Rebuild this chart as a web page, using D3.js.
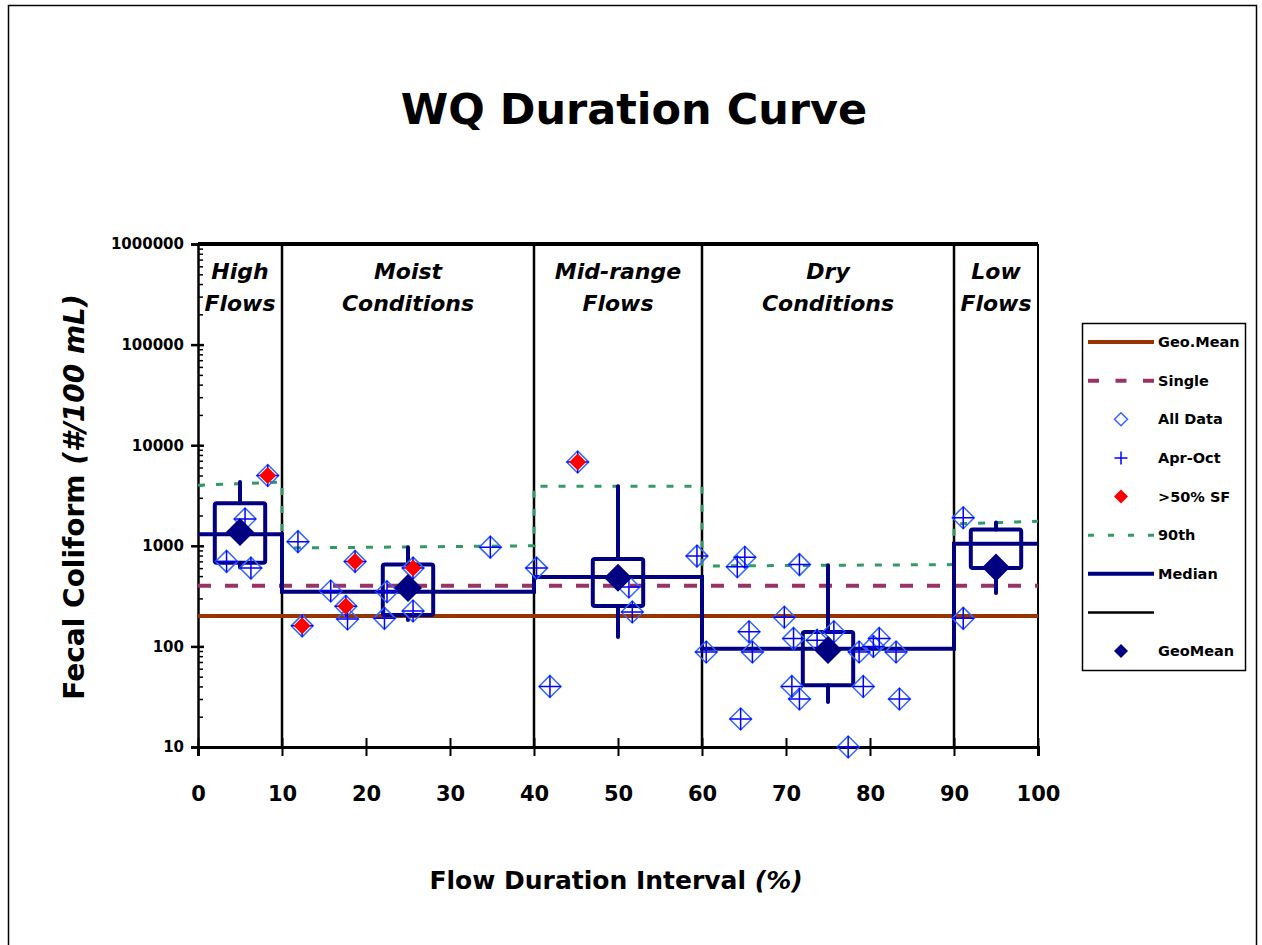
<!DOCTYPE html>
<html>
<head>
<meta charset="utf-8">
<script src="https://cdn.jsdelivr.net/npm/d3@7"></script>
<style>
  body { margin: 0; background: #fff; }
  svg text { font-family: "DejaVu Sans", sans-serif; font-weight: bold; fill: #000; }
</style>
</head>
<body>
<script>
// zones of the flow duration curve
var zoneBounds = [0, 10, 40, 60, 90, 100];
var zoneMid = [5, 25, 50, 75, 95];
var zoneLabels = [["High", "Flows"], ["Moist", "Conditions"], ["Mid-range", "Flows"], ["Dry", "Conditions"], ["Low", "Flows"]];

// criteria
var geoMeanStd = 200;
var singleStd = 400;

// 90th percentile line, start/end value in each zone
var ninetyStart = [4000, 950, 3900, 630, 1650];
var ninetyEnd = [4300, 1000, 3900, 650, 1750];

// zone statistics
var medianVals = [1300, 350, 490, 95, 1050];
var q1Vals = [680, 205, 252, 41, 600];
var q3Vals = [2650, 650, 740, 139, 1450];
var loVals = [610, 183, 124, 28, 340];
var hiVals = [4300, 970, 3900, 640, 1700];
var geoMeanVals = [1370, 380, 480, 92, 610];

// samples (all data, all inside Apr-Oct)
var allX = [5.6, 3.4, 6.3, 8.3,
            11.9, 12.4, 15.8, 18.7, 17.6, 17.8, 22.2, 22.5, 25.6, 25.6, 34.8,
            40.3, 41.9, 45.2, 51.3, 51.7, 59.4,
            60.5, 64.2, 65.1, 64.6, 65.6, 66.0, 69.8, 70.9, 70.7, 71.6, 71.6, 73.7, 75.7, 77.4, 78.7, 79.2, 80.4, 81.1, 83.1, 83.5,
            91.1, 91.1];
var allY = [1850, 700, 600, 5000,
            1100, 160, 355, 700, 250, 187, 190, 350, 600, 225, 970,
            600, 40, 6800, 390, 220, 790,
            88, 620, 770, 19, 140, 88, 195, 120, 40, 30, 650, 115, 140, 10, 88, 40, 100, 120, 88, 30,
            1900, 190];
// samples above 50% of single sample criterion
var sfX = [8.3, 12.4, 18.7, 17.6, 25.6, 45.2];
var sfY = [5000, 160, 700, 250, 600, 6800];

var yTicks = [10, 100, 1000, 10000, 100000, 1000000];
var xTicks = [0, 10, 20, 30, 40, 50, 60, 70, 80, 90, 100];

var legendNames = ["Geo.Mean", "Single", "All Data", "Apr-Oct", ">50% SF", "90th", "Median", "", "GeoMean"];

var width = 1262, height = 945;
var plotLeft = 198, plotRight = 1038, plotTop = 244, plotBottom = 747;

var navy = "#000080", brown = "#993300", purple = "#993366", green = "#339966", blue = "#3366ff";

var x = d3.scaleLinear().domain([0, 100]).range([plotLeft, plotRight]);
var y = d3.scaleLog().domain([10, 1000000]).range([plotBottom, plotTop]);

function diamond(r) { return "M0," + (-r) + "L" + r + ",0L0," + r + "L" + (-r) + ",0Z"; }
function cross(r) { return "M" + (-r) + ",0H" + r + "M0," + (-r) + "V" + r; }

var svg = d3.select("body").append("svg")
    .attr("width", width)
    .attr("height", height);

// outer slide frame
svg.append("rect")
    .attr("x", 8.5).attr("y", 5.5)
    .attr("width", 1248).attr("height", 960)
    .attr("fill", "none").attr("stroke", "#000").attr("stroke-width", 1.5);

svg.append("text")
    .attr("x", 634).attr("y", 124)
    .attr("text-anchor", "middle")
    .style("font-size", "43px")
    .text("WQ Duration Curve");

// y axis, major ticks crossing the line and minor ticks inside
var minorTicks = [];
for (var e = 1; e < 6; e++) for (var m = 2; m < 10; m++) minorTicks.push(m * Math.pow(10, e));

svg.append("g")
    .attr("transform", "translate(" + plotLeft + ",0)")
    .call(d3.axisLeft(y).tickValues(yTicks).tickFormat(d3.format("d")).tickSize(7).tickPadding(7))
    .call(function(g) {
        g.select(".domain").attr("stroke-width", 2.5);
        g.selectAll(".tick line").attr("stroke-width", 2.5);
        g.selectAll(".tick text").style("font-size", "15px").attr("font-family", null);
    });
svg.append("g")
    .attr("transform", "translate(" + plotLeft + ",0)")
    .call(d3.axisRight(y).tickValues(yTicks).tickFormat("").tickSize(6))
    .call(function(g) { g.select(".domain").remove(); g.selectAll(".tick line").attr("stroke-width", 2.5); });
svg.append("g")
    .attr("transform", "translate(" + plotLeft + ",0)")
    .call(d3.axisRight(y).tickValues(minorTicks).tickFormat("").tickSize(5))
    .call(function(g) { g.select(".domain").remove(); g.selectAll(".tick line").attr("stroke-width", 1.5); });

// x axis
svg.append("g")
    .attr("transform", "translate(0," + plotBottom + ")")
    .call(d3.axisBottom(x).tickValues(xTicks).tickSize(9).tickPadding(30))
    .call(function(g) {
        g.select(".domain").attr("stroke-width", 3);
        g.selectAll(".tick line").attr("stroke-width", 2).attr("y1", -9);
        g.selectAll(".tick text").style("font-size", "21px").attr("font-family", null);
    });

// plot frame top and right
svg.append("line")
    .attr("x1", plotLeft).attr("x2", plotRight).attr("y1", plotTop).attr("y2", plotTop)
    .attr("stroke", "#000").attr("stroke-width", 4);
svg.append("line")
    .attr("x1", plotRight).attr("x2", plotRight).attr("y1", plotTop).attr("y2", plotBottom)
    .attr("stroke", "#000").attr("stroke-width", 2);

// zone dividers
svg.append("g").selectAll("line")
    .data(zoneBounds.slice(1, 5))
    .enter().append("line")
    .attr("x1", function(d) { return x(d); })
    .attr("x2", function(d) { return x(d); })
    .attr("y1", plotTop).attr("y2", plotBottom)
    .attr("stroke", "#000").attr("stroke-width", 2.5);

// zone labels
var zl = svg.append("g").selectAll("text")
    .data(zoneLabels)
    .enter().append("text")
    .attr("text-anchor", "middle")
    .style("font-size", "22px")
    .style("font-style", "italic");
zl.append("tspan")
    .attr("x", function(d, i) { return x(zoneMid[i]); })
    .attr("y", 279)
    .text(function(d) { return d[0]; });
zl.append("tspan")
    .attr("x", function(d, i) { return x(zoneMid[i]); })
    .attr("y", 311)
    .text(function(d) { return d[1]; });

// geometric mean criterion
svg.append("line")
    .attr("x1", x(0)).attr("x2", x(100))
    .attr("y1", y(geoMeanStd)).attr("y2", y(geoMeanStd))
    .attr("stroke", brown).attr("stroke-width", 4);

// single sample criterion
svg.append("line")
    .attr("x1", x(0)).attr("x2", x(100))
    .attr("y1", y(singleStd)).attr("y2", y(singleStd))
    .attr("stroke", purple).attr("stroke-width", 4)
    .attr("stroke-dasharray", "13,14");

// 90th percentile
var ninetyPts = [];
zoneMid.forEach(function(d, i) {
    ninetyPts.push([zoneBounds[i], ninetyStart[i]]);
    ninetyPts.push([zoneBounds[i + 1], ninetyEnd[i]]);
});
svg.append("path")
    .datum(ninetyPts)
    .attr("d", d3.line().x(function(d) { return x(d[0]); }).y(function(d) { return y(d[1]); }))
    .attr("fill", "none")
    .attr("stroke", green).attr("stroke-width", 3)
    .attr("stroke-dasharray", "7,11");

// median step line
var medianPts = zoneMid.map(function(d, i) { return [zoneBounds[i], medianVals[i]]; });
medianPts.push([100, medianVals[medianVals.length - 1]]);
svg.append("path")
    .datum(medianPts)
    .attr("d", d3.line().curve(d3.curveStepAfter).x(function(d) { return x(d[0]); }).y(function(d) { return y(d[1]); }))
    .attr("fill", "none")
    .attr("stroke", navy).attr("stroke-width", 4);

// box plots
var boxes = svg.append("g")
    .attr("stroke", navy).attr("stroke-width", 4)
    .attr("stroke-linecap", "round").attr("stroke-linejoin", "round");
boxes.selectAll("rect")
    .data(zoneMid)
    .enter().append("rect")
    .attr("x", function(d) { return x(d - 3); })
    .attr("width", function(d) { return x(d + 3) - x(d - 3); })
    .attr("y", function(d, i) { return y(q3Vals[i]); })
    .attr("height", function(d, i) { return y(q1Vals[i]) - y(q3Vals[i]); })
    .attr("rx", 2)
    .attr("fill", "none");
boxes.selectAll("line.hi")
    .data(zoneMid)
    .enter().append("line")
    .attr("class", "hi")
    .attr("x1", function(d) { return x(d); })
    .attr("x2", function(d) { return x(d); })
    .attr("y1", function(d, i) { return y(q3Vals[i]); })
    .attr("y2", function(d, i) { return y(hiVals[i]); });
boxes.selectAll("line.lo")
    .data(zoneMid)
    .enter().append("line")
    .attr("class", "lo")
    .attr("x1", function(d) { return x(d); })
    .attr("x2", function(d) { return x(d); })
    .attr("y1", function(d, i) { return y(q1Vals[i]); })
    .attr("y2", function(d, i) { return y(loVals[i]); });

// samples
var pts = svg.append("g");
pts.selectAll("path.all")
    .data(allX)
    .enter().append("path")
    .attr("class", "all")
    .attr("transform", function(d, i) { return "translate(" + x(d) + "," + y(allY[i]) + ")"; })
    .attr("d", diamond(11))
    .attr("fill", "none").attr("stroke", blue).attr("stroke-width", 1.5);
pts.selectAll("path.apr")
    .data(allX)
    .enter().append("path")
    .attr("class", "apr")
    .attr("transform", function(d, i) { return "translate(" + x(d) + "," + y(allY[i]) + ")"; })
    .attr("d", cross(11))
    .attr("fill", "none").attr("stroke", "#0000ff").attr("stroke-width", 1.5);
pts.selectAll("path.sf")
    .data(sfX)
    .enter().append("path")
    .attr("class", "sf")
    .attr("transform", function(d, i) { return "translate(" + x(d) + "," + y(sfY[i]) + ")"; })
    .attr("d", diamond(8.5))
    .attr("fill", "#ff0000");

// geometric means per zone
svg.append("g").selectAll("path")
    .data(zoneMid)
    .enter().append("path")
    .attr("transform", function(d, i) { return "translate(" + x(d) + "," + y(geoMeanVals[i]) + ")"; })
    .attr("d", diamond(14))
    .attr("fill", navy);

// axis titles
var yt = svg.append("text")
    .attr("transform", "translate(84,497) rotate(-90)")
    .attr("text-anchor", "middle")
    .style("font-size", "28px");
yt.append("tspan").text("Fecal Coliform ");
yt.append("tspan").style("font-style", "italic").text("(#/100 mL)");

var xt = svg.append("text")
    .attr("x", 616).attr("y", 889)
    .attr("text-anchor", "middle")
    .style("font-size", "25px");
xt.append("tspan").text("Flow Duration Interval ");
xt.append("tspan").style("font-style", "italic").text("(%)");

// legend
var legend = svg.append("g").attr("transform", "translate(1082,323)");
legend.append("rect")
    .attr("x", 0.5).attr("y", 0.5)
    .attr("width", 163).attr("height", 347)
    .attr("fill", "#fff").attr("stroke", "#000").attr("stroke-width", 1.5);

var legendY = d3.scaleLinear().domain([0, 8]).range([19, 328]);
var items = legend.selectAll("g.item")
    .data(legendNames)
    .enter().append("g")
    .attr("class", "item")
    .attr("transform", function(d, i) { return "translate(0," + legendY(i) + ")"; });
items.append("text")
    .attr("x", 76).attr("y", 5)
    .style("font-size", "14.5px")
    .text(function(d) { return d; });

function legendLine(i, color, w, dash) {
    legend.append("line")
        .attr("x1", 6).attr("x2", 72)
        .attr("y1", legendY(i)).attr("y2", legendY(i))
        .attr("stroke", color).attr("stroke-width", w)
        .attr("stroke-dasharray", dash);
}
legendLine(0, brown, 4, null);
legendLine(1, purple, 4, "11,16.5");
legendLine(5, green, 3, "6,14");
legendLine(6, navy, 4, null);
legendLine(7, "#000", 2.5, null);

legend.append("path")
    .attr("transform", "translate(39," + legendY(2) + ")")
    .attr("d", diamond(6.5))
    .attr("fill", "none").attr("stroke", blue).attr("stroke-width", 1.5);
legend.append("path")
    .attr("transform", "translate(39," + legendY(3) + ")")
    .attr("d", cross(6.5))
    .attr("fill", "none").attr("stroke", "#0000ff").attr("stroke-width", 1.5);
legend.append("path")
    .attr("transform", "translate(39," + legendY(4) + ")")
    .attr("d", diamond(7))
    .attr("fill", "#ff0000");
legend.append("path")
    .attr("transform", "translate(39," + legendY(8) + ")")
    .attr("d", diamond(7))
    .attr("fill", navy);
</script>
</body>
</html>
